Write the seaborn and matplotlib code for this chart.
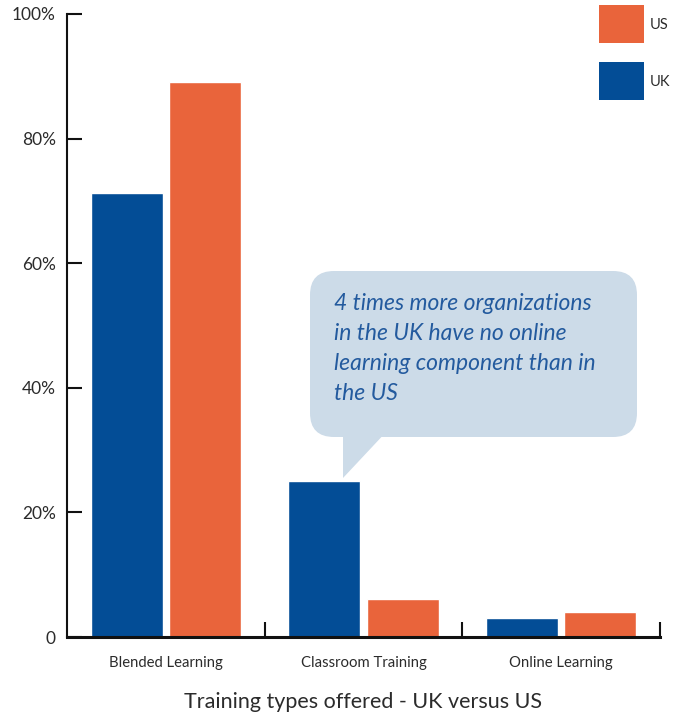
import matplotlib
matplotlib.use("Agg")
import matplotlib.pyplot as plt
import matplotlib.patches as mpatches
import matplotlib.transforms as mtransforms
import seaborn as sns
import pandas as pd

categories = ["Blended Learning", "Classroom Training", "Online Learning"]
uk_values = [71.3, 25.0, 3.0]
us_values = [89.1, 6.1, 4.0]
countries = ["UK", "US"]
y_ticks = [0, 20, 40, 60, 80, 100]
y_tick_labels = ["0", "20%", "40%", "60%", "80%", "100%"]
x_title = "Training types offered - UK versus US"
callout_text = ("4 times more organizations\nin the UK have no online\n"
                "learning component than in\nthe US")

palette = {"UK": "#034D96", "US": "#E9643B"}
text_color = "#2b2b2b"

df = pd.DataFrame({
    "category": categories * 2,
    "country": ["UK"] * len(categories) + ["US"] * len(categories),
    "value": uk_values + us_values,
})

sns.set_theme(style="white")
plt.rcParams["font.family"] = ["Lato", "DejaVu Sans"]

W, H = 684, 715
fig = plt.figure(figsize=(W / 100, H / 100), dpi=100)
ax = fig.add_axes([67 / W, 1 - 637 / H, (660 - 67) / W, (637 - 14) / H])

sns.barplot(data=df, x="category", y="value", hue="country",
            hue_order=countries, palette=palette, width=0.79, gap=0.077,
            ax=ax, legend=False, errorbar=None, saturation=1)

ax.set_xlim(-0.5, 2.5)
ax.set_ylim(0, 100)
ax.set_yticks(y_ticks)
ax.set_yticklabels(y_tick_labels)
ax.set_xticks(range(len(categories)))
ax.set_xticklabels(categories)
ax.set_xticks([0.5, 1.5, 2.5], minor=True)
ax.set_ylabel("")
ax.set_xlabel(x_title, fontsize=15.5, color=text_color, labelpad=15.5)

ax.tick_params(axis="y", direction="in", length=11, width=1.5, color="#111111",
               labelsize=12.5, labelcolor=text_color, pad=8, left=True)
ax.tick_params(axis="x", which="major", length=0, labelsize=10.7,
               labelcolor=text_color, pad=14)
ax.tick_params(axis="x", which="minor", direction="in", length=11, width=1.5,
               color="#111111", bottom=True)

for side in ["top", "right"]:
    ax.spines[side].set_visible(False)
ax.spines["left"].set_linewidth(1.5)
ax.spines["left"].set_color("#111111")
ax.spines["bottom"].set_linewidth(2.2)
ax.spines["bottom"].set_color("#111111")
ax.grid(False)

# speech bubble in pixel coordinates (origin top-left)
px = mtransforms.Affine2D().scale(1, -1).translate(0, H)
bubble_fc = "#CCDBE8"
box = mpatches.FancyBboxPatch((310, 271), 327, 166,
                              boxstyle="round,pad=0,rounding_size=24",
                              transform=px, fc=bubble_fc, ec="none",
                              zorder=5, clip_on=False)
fig.add_artist(box)
tail = mpatches.Polygon([(343, 430), (388, 430), (343, 478)], closed=True,
                        transform=px, fc=bubble_fc, ec="none", zorder=5,
                        clip_on=False)
fig.add_artist(tail)
fig.text(334 / W, 1 - 293 / H, callout_text, ha="left", va="top",
         fontsize=16.5, style="italic", color="#235A9E", linespacing=1.53,
         zorder=6)

# legend swatches
for i, name in enumerate(["US", "UK"]):
    top = 5 + i * 57
    fig.add_artist(mpatches.Rectangle((599, top + 38), 45, -38, transform=px,
                                      fc=palette[name], ec="none"))
    fig.text(650 / W, 1 - (top + 20) / H, name, ha="left", va="center",
             fontsize=10.5, color=text_color)

fig.savefig("out.png", dpi=100)
